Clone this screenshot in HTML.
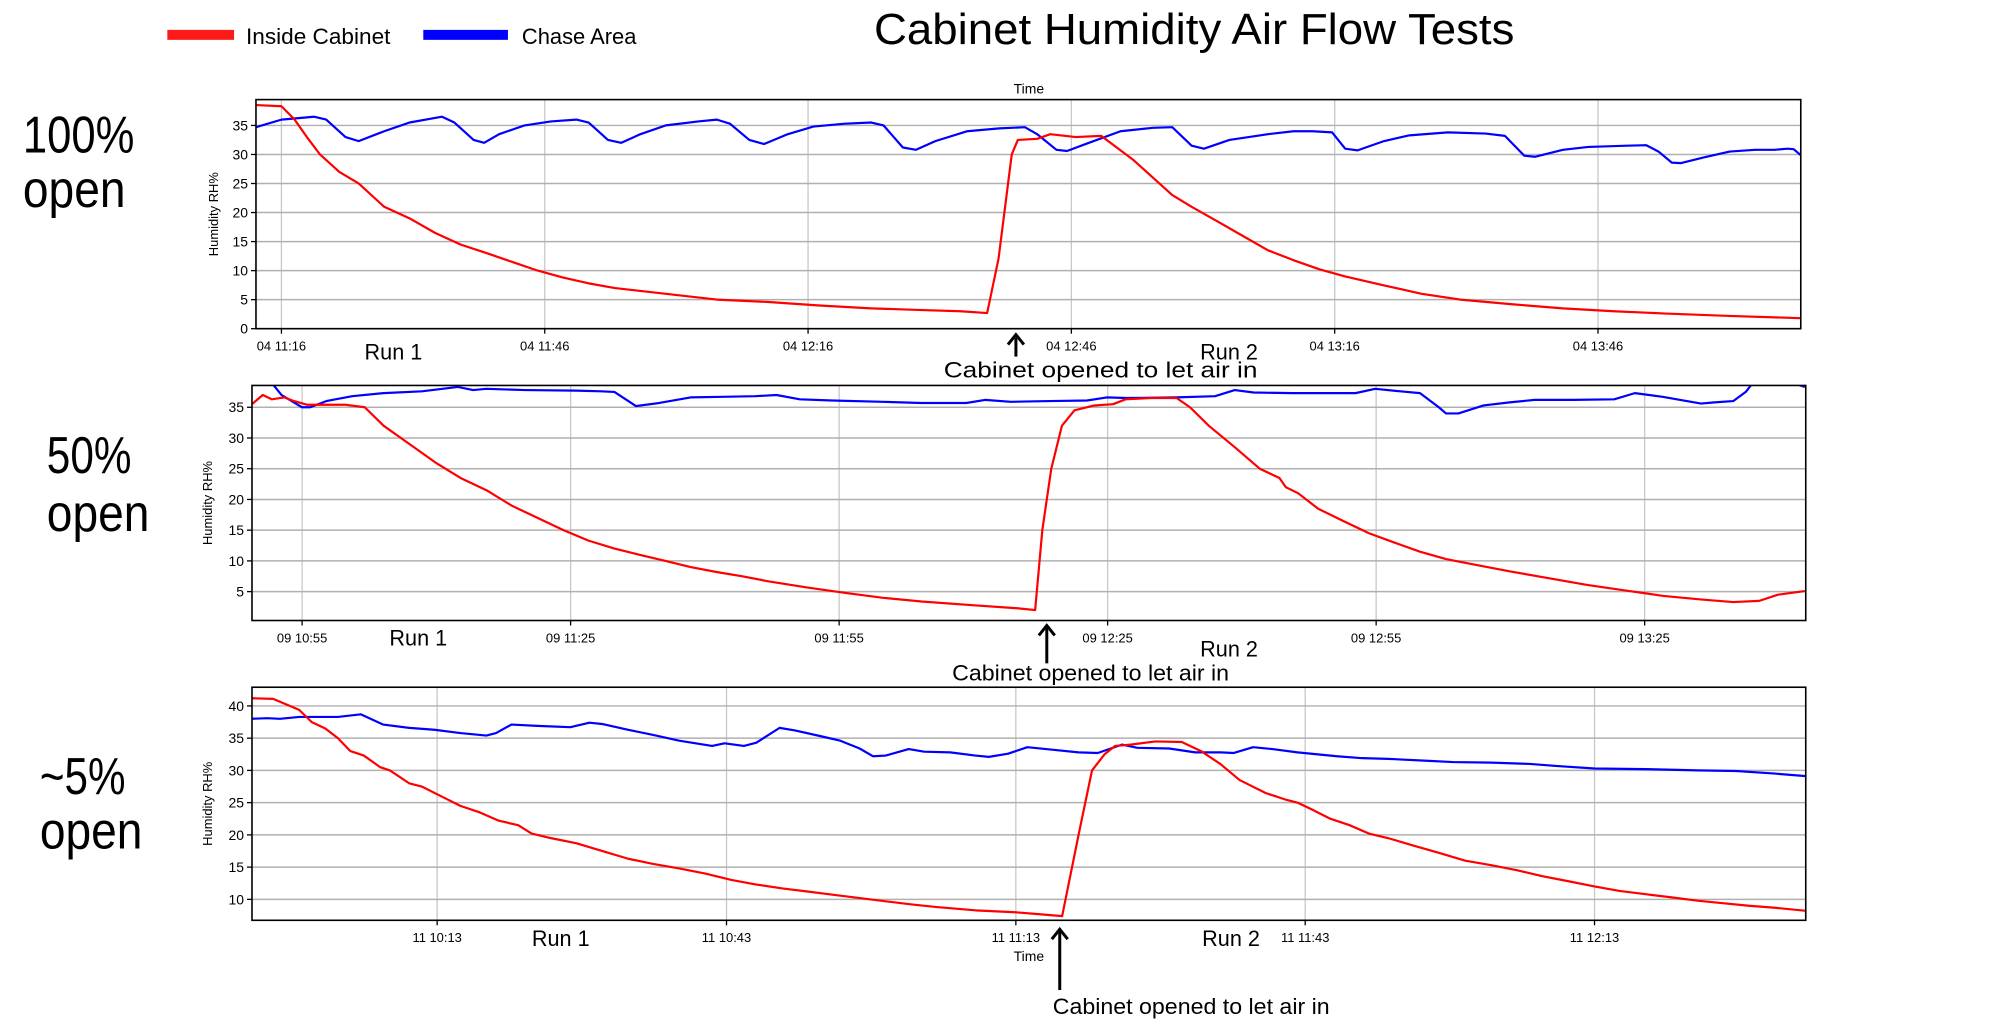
<!DOCTYPE html>
<html><head><meta charset="utf-8"><style>
html,body{margin:0;padding:0;background:#fff;}
svg{display:block;font-family:"Liberation Sans",sans-serif;}
</style></head><body>
<svg id="root" width="2007" height="1036" viewBox="0 0 2007 1036" xmlns="http://www.w3.org/2000/svg">
<g transform="scale(0.996)">
<text x="1199" y="44" text-anchor="middle" font-size="44" textLength="643" lengthAdjust="spacingAndGlyphs">Cabinet Humidity Air Flow Tests</text>
<g>
<rect x="168" y="30" width="67" height="10" fill="#ff1a1a"/>
<text x="247" y="44" font-size="22" textLength="145" lengthAdjust="spacingAndGlyphs">Inside Cabinet</text>
<rect x="425" y="30" width="85" height="10" fill="#0000ff"/>
<text x="524" y="44" font-size="22" textLength="115" lengthAdjust="spacingAndGlyphs">Chase Area</text>
</g>
<g font-size="52">
<text x="23" y="153" textLength="112" lengthAdjust="spacingAndGlyphs">100%</text>
<text x="23" y="208" textLength="103" lengthAdjust="spacingAndGlyphs">open</text>
<text x="47" y="475" textLength="85" lengthAdjust="spacingAndGlyphs">50%</text>
<text x="47" y="533" textLength="103" lengthAdjust="spacingAndGlyphs">open</text>
<text x="40" y="797" textLength="86" lengthAdjust="spacingAndGlyphs">~5%</text>
<text x="40" y="852" textLength="103" lengthAdjust="spacingAndGlyphs">open</text>
</g>
<g id="charts"></g>
<g font-size="22">
<text x="366" y="361" textLength="58" lengthAdjust="spacingAndGlyphs">Run 1</text>
<text x="1205" y="361" textLength="58" lengthAdjust="spacingAndGlyphs">Run 2</text>
<line x1="1020" y1="358" x2="1020" y2="339" stroke="#000" stroke-width="3"/>
<path d="M1012 346 L1020 336 L1028 346" fill="none" stroke="#000" stroke-width="3"/>
<text x="1105" y="379" text-anchor="middle" textLength="315" lengthAdjust="spacingAndGlyphs">Cabinet opened to let air in</text>
<text x="391" y="648" textLength="58" lengthAdjust="spacingAndGlyphs">Run 1</text>
<text x="1205" y="659" textLength="58" lengthAdjust="spacingAndGlyphs">Run 2</text>
<line x1="1051" y1="666" x2="1051" y2="630" stroke="#000" stroke-width="3"/>
<path d="M1043 638 L1051 628 L1059 638" fill="none" stroke="#000" stroke-width="3"/>
<text x="1095" y="683" text-anchor="middle" textLength="278" lengthAdjust="spacingAndGlyphs">Cabinet opened to let air in</text>
<text x="534" y="950" textLength="58" lengthAdjust="spacingAndGlyphs">Run 1</text>
<text x="1207" y="950" textLength="58" lengthAdjust="spacingAndGlyphs">Run 2</text>
<line x1="1064" y1="994" x2="1064" y2="935" stroke="#000" stroke-width="3"/>
<path d="M1056 943 L1064 933 L1072 943" fill="none" stroke="#000" stroke-width="3"/>
<text x="1196" y="1018" text-anchor="middle" textLength="278" lengthAdjust="spacingAndGlyphs">Cabinet opened to let air in</text>
</g>
</g>
</svg>
<script>
// ---- Chart 1 (100% open) ----
const c1RedTime=[673.1,676,677.5,678.9,680.4,682.6,684.8,687.7,690.6,693.5,696.4,699.4,702.3,705.2,708.1,711,714,716.9,719.8,722.7,725.6,731.5,737.3,743.2,749,753.4,756.4,757.7,759.2,759.9,762.1,763.6,766.5,769.4,770.9,773.1,775.3,777.5,779.7,782.6,785.5,788.4,791.3,794.3,797.2,801.5,805.9,810.3,816.2,822,827.8,833.7,841,849.3];
const c1RedVal=[38.5,38.3,36,33,30,27,25,21,19,16.5,14.5,13,11.5,10,8.8,7.8,7,6.5,6,5.5,5,4.6,4,3.5,3.2,3,2.7,12,30,32.5,32.7,33.5,33,33.2,31.5,29,26,23,21,18.5,16,13.5,11.8,10.2,9,7.5,6,5,4.2,3.5,3,2.6,2.2,1.8];
const c1BlueTime=[673.1,676,679.7,681.1,683.3,684.8,687.7,690.6,693.5,694.3,695.7,697.9,699.1,700.8,703.7,706.7,709.6,711,713.2,714.7,716.9,719.8,723.5,725.6,727.1,729.3,731,733.7,736.6,740.2,743.2,744.6,746.8,748.3,750.5,754.1,757.8,760.7,762.1,764.3,765.5,768,771.6,775.3,777.5,779.7,781.1,784,788.4,791.3,793.5,795.7,797.2,798.6,801.6,804.5,808.9,813.2,815.4,817.6,818.8,822,824.9,829.3,831.5,832.9,834.4,835.4,838.1,841,843.9,846.1,847.6,848.3,849.3];
const c1BlueVal=[34.7,36,36.5,36,33,32.3,34,35.5,36.3,36.5,35.5,32.5,32,33.5,35,35.7,36,35.5,32.5,32,33.5,35,35.7,36,35.3,32.5,31.8,33.5,34.8,35.3,35.5,35,31.2,30.8,32.3,34,34.5,34.7,33.5,30.8,30.6,32,34,34.6,34.7,31.5,31,32.5,33.5,34,34,33.8,31,30.7,32.3,33.3,33.8,33.6,33.2,29.8,29.6,30.8,31.3,31.5,31.6,30.5,28.6,28.5,29.5,30.5,30.8,30.8,31,30.9,29.6];
const c1XTicks=[676,706,736,766,796,826];
const c1YTicks=[0,5,10,15,20,25,30,35];
const c1Day="04";
// ---- Chart 2 (50% open) ----
const c2RedTime=[649.4,650.6,651.6,653,654.1,655.6,659.9,662,664.1,667,669.9,672.7,675.6,678.4,681.3,684.2,687,689.9,692.7,695.6,698.4,701.3,704.2,707,711.3,715.6,719.9,724.2,729.9,734.9,736.9,737.7,738.7,739.9,741.3,743.5,745.6,747,749.9,752.7,754.2,756.3,759.2,762,764.2,764.9,766.3,768.5,771.3,774.2,777,779.9,782.8,785.6,789.9,794.2,798.5,802.8,807.1,811.4,814.9,817.8,819.9,822.9];
const c2RedVal=[35.5,37,36.3,36.6,36,35.4,35.4,35,32,29,26,23.5,21.5,19,17,15,13.3,12,11,10,9,8.2,7.5,6.7,5.7,4.8,4,3.4,2.8,2.3,2,15,25,32,34.5,35.3,35.5,36.3,36.5,36.5,35,32,28.5,25,23.5,22,21,18.5,16.5,14.5,13,11.5,10.3,9.5,8.3,7.2,6.1,5.2,4.3,3.7,3.3,3.5,4.5,5.1];
const c2BlueTime=[651.3,652.7,655,655.9,657.7,660.6,664.1,668.4,672.4,674.1,675.6,679.9,685.6,688.4,689.9,692.3,694.9,698.4,702,705.6,708,710.6,714.2,719.9,724.2,729.2,731.3,734.2,738.5,742.7,744.9,747,752.7,757,759.2,761.3,765.6,772.7,774.9,777.7,779.9,782,782.8,784.2,787,789.9,792.7,797,801.6,803.9,807,811.3,812.8,814.9,816.3,817.1,821.4,822.9];
const c2BlueVal=[39.5,37,35,35,36,36.8,37.3,37.6,38.3,37.8,38,37.8,37.7,37.6,37.5,35.2,35.7,36.6,36.7,36.8,37,36.3,36.1,35.9,35.7,35.7,36.2,35.9,36,36.1,36.6,36.5,36.6,36.8,37.8,37.4,37.3,37.3,38,37.6,37.3,35,34,34,35.3,35.8,36.2,36.2,36.3,37.3,36.7,35.6,35.8,36,37.5,39,39,38.3];
const c2XTicks=[655,685,715,745,775,805];
const c2YTicks=[5,10,15,20,25,30,35];
const c2Day="09";
// ---- Chart 3 (~5% open) ----
const c3RedTime=[593.6,596,597.4,598.7,600,601.4,602.7,604,605.4,607.1,608.1,610.1,611.4,613.4,615.4,617.4,619.4,621.4,622.8,624.8,627.4,630.1,632.8,635.4,638.1,640.8,643.5,646.1,648.8,651.5,654.1,656.8,659.5,662.2,664.8,668.8,672.9,675.5,677.8,679.5,680.9,682.2,683.3,684.9,687.5,690.2,692.2,694.2,696.2,698.9,700.9,702.2,703.6,705.6,707.6,709.6,711.6,714.3,716.9,719.6,722.3,725,727.6,730.3,733,735.6,738.3,741,743.7,746.3,749,751.7,755.8];
const c3RedVal=[41.2,41.1,40.2,39.4,37.5,36.5,35,33,32.3,30.5,30,28,27.5,26,24.5,23.5,22.2,21.5,20.2,19.5,18.7,17.5,16.3,15.5,14.8,14,13,12.3,11.7,11.2,10.7,10.2,9.7,9.2,8.8,8.3,8,7.7,7.4,20,30,32.5,33.8,34,34.5,34.4,33,31,28.5,26.5,25.5,25,24,22.5,21.5,20.2,19.5,18.3,17.2,16,15.3,14.5,13.6,12.8,12,11.3,10.8,10.3,9.8,9.4,9,8.7,8.1];
const c3BlueTime=[593.6,595.4,596.7,598.7,602.7,605.1,607.4,610.1,612.7,615.4,618.1,619.1,620.7,623.4,626.8,628.8,630.1,632.8,635.4,638.1,641.5,642.8,644.8,646.1,648.5,650.1,652.8,654.8,656.8,658.2,659.5,661.9,663.5,666.2,668.8,670.2,672.2,674.2,676.9,679.5,681.5,684,685.6,688.9,691.6,694.2,695.6,697.6,699.6,702.2,706.3,708.9,711.6,715.6,718.3,722.3,726.3,729,733,738.3,743.7,747.7,751.7,755];
const c3BlueVal=[38,38.1,38,38.3,38.3,38.7,37.1,36.6,36.3,35.8,35.4,35.8,37.1,36.9,36.7,37.4,37.2,36.3,35.5,34.6,33.8,34.2,33.8,34.3,36.6,36.2,35.3,34.6,33.4,32.2,32.3,33.3,32.9,32.8,32.3,32.1,32.6,33.6,33.2,32.8,32.7,34,33.5,33.4,32.8,32.8,32.7,33.6,33.3,32.8,32.2,31.9,31.8,31.5,31.3,31.2,31,30.7,30.3,30.2,30,29.9,29.5,29.1];
const c3XTicks=[613,643,673,703,733];
const c3YTicks=[10,15,20,25,30,35,40];
const c3Day="11";

const NS="http://www.w3.org/2000/svg";
const chartsG=document.getElementById('charts');
function mk(tag,attrs,parent){const e=document.createElementNS(NS,tag);for(const k in attrs)e.setAttribute(k,attrs[k]);parent.appendChild(e);return e;}
function fmt(m){const h=Math.floor(m/60),mm=Math.round(m%60);return String(h).padStart(2,'0')+':'+String(mm).padStart(2,'0');}

function drawChart(id,box,xDom,yDom,redT,redV,blueT,blueV,xTicks,yTicks,day,yTitlePos,topTime,bottomTime){
  const g=mk('g',{},chartsG);
  
  
  const X=v=>box.l+(v-xDom[0])/(xDom[1]-xDom[0])*(box.r-box.l);
  const Y=v=>box.b-(v-yDom[0])/(yDom[1]-yDom[0])*(box.b-box.t);
  const cp=mk('clipPath',{id:'clip'+id},g);
  mk('rect',{x:box.l,y:box.t,width:box.r-box.l,height:box.b-box.t},cp);
  xTicks.forEach(t=>{
    const x=X(t);
    const gl=mk('line',{x1:x,x2:x,y1:box.t,y2:box.b,stroke:'#c8c8c8','stroke-width':1.3},g);
    
    
    mk('line',{x1:x,x2:x,y1:box.b,y2:box.b+5,stroke:'#000','stroke-width':1.3},g);
    const tx=mk('text',{x:x,y:box.b+22,'text-anchor':'middle','font-size':13},g);
    tx.textContent=day+' '+fmt(t);
    
    
  });
  yTicks.forEach(v=>{
    const y=Y(v);
    const gl=mk('line',{x1:box.l,x2:box.r,y1:y,y2:y,stroke:'#b0b0b0','stroke-width':1.5},g);
    
    
    mk('line',{x1:box.l-5,x2:box.l,y1:y,y2:y,stroke:'#000','stroke-width':1.3},g);
    const tx=mk('text',{x:box.l-8,y:y+5,'text-anchor':'end','font-size':14},g);
    tx.textContent=String(v);
    
    
  });
  const series=[[blueT,blueV,'#0000ff','chase-area-line'],[redT,redV,'#ff0000','inside-cabinet-line']];
  series.forEach(s=>{
    const d=s[0].map((t,i)=>(i?'L':'M')+X(t).toFixed(1)+' '+Y(s[1][i]).toFixed(1)).join(' ');
    const p=mk('path',{d:d,fill:'none',stroke:s[2],'stroke-width':2.2,'stroke-linejoin':'round','clip-path':'url(#clip'+id+')'},g);
    
    
  });
  const fr=mk('rect',{x:box.l,y:box.t,width:box.r-box.l,height:box.b-box.t,fill:'none',stroke:'#000','stroke-width':1.6},g);
  
  
  const yt=mk('text',{x:yTitlePos[0],y:yTitlePos[1],'text-anchor':'middle','font-size':13,transform:'rotate(-90 '+yTitlePos[0]+' '+yTitlePos[1]+')'},g);
  yt.textContent='Humidity RH%';
  
  
  if(topTime){const t=mk('text',{x:1033,y:94,'text-anchor':'middle','font-size':14},g);t.textContent='Time';
    
    }
  if(bottomTime){const t=mk('text',{x:1033,y:965,'text-anchor':'middle','font-size':14},g);t.textContent='Time';
    
    }
}
drawChart(1,{l:257,r:1808,t:100,b:330},[673.1,849.1],[0,39.45],c1RedTime,c1RedVal,c1BlueTime,c1BlueVal,c1XTicks,c1YTicks,c1Day,[219,215],true,false);
drawChart(2,{l:253,r:1813,t:387,b:623},[649.4,823],[0.3,38.55],c2RedTime,c2RedVal,c2BlueTime,c2BlueVal,c2XTicks,c2YTicks,c2Day,[213,505],false,false);
drawChart(3,{l:253,r:1813,t:690,b:924},[593.8,754.9],[6.75,42.9],c3RedTime,c3RedVal,c3BlueTime,c3BlueVal,c3XTicks,c3YTicks,c3Day,[213,807],false,true);
</script>
</body></html>
